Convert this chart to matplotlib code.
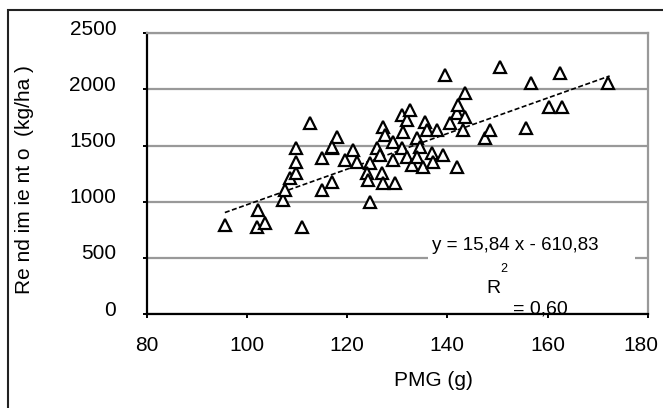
import numpy as np
import matplotlib
matplotlib.use("Agg")
import matplotlib.pyplot as plt
import matplotlib.transforms as mtransforms
from matplotlib.patches import Rectangle

plt.rcParams["font.family"] = ["Liberation Sans", "DejaVu Sans"]

# PMG (g) vs rendimiento (kg/ha)
pmg = [95.6, 102.0, 102.3, 103.6, 107.3, 107.6, 108.6, 109.9, 109.9, 109.9,
       110.9, 112.6, 114.9, 114.9, 116.9, 116.9, 117.9, 117.0, 119.6, 121.2,
       121.9, 124.6, 123.9, 124.2, 124.6, 125.9, 126.6, 126.9, 127.2, 127.2,
       127.6, 129.2, 129.2, 129.6, 130.9, 130.9, 131.2, 131.9, 131.9, 132.6,
       132.9, 133.9, 134.6, 134.0, 135.2, 135.5, 135.9, 136.9, 137.2, 137.9,
       139.2, 139.5, 140.5, 141.9, 141.9, 142.2, 143.5, 143.5, 143.2, 147.5,
       148.5, 150.5, 155.8, 156.8, 160.2, 162.5, 162.8, 172.1]
rend = [792, 777, 926, 807, 1015, 1104, 1208, 1253, 1356, 1475,
        777, 1698, 1386, 1104, 1475, 1178, 1579, 1490, 1371, 1460,
        1356, 1342, 1253, 1193, 1000, 1475, 1416, 1253, 1164, 1668,
        1594, 1534, 1371, 1164, 1772, 1475, 1623, 1727, 1401, 1816,
        1327, 1565, 1490, 1400, 1312, 1712, 1639, 1431, 1356, 1639,
        1416, 2128, 1698, 1312, 1787, 1861, 1965, 1757, 1639, 1565,
        1639, 2202, 1653, 2054, 1846, 2143, 1846, 2054]

slope, intercept = 15.84, -610.83
x_ticks = [80, 100, 120, 140, 160, 180]
y_ticks = [0, 500, 1000, 1500, 2000, 2500]

fig = plt.figure(figsize=(6.63, 4.08), dpi=100)
ax = fig.add_axes([146.7 / 663, 94 / 408, 501 / 663, 280.7 / 408])

ax.set_xlim(80, 180)
ax.set_ylim(0, 2500)
ax.set_xticks(x_ticks)
ax.set_yticks(y_ticks)
ax.set_axisbelow(True)
ax.yaxis.grid(True, color="#999999", lw=1.6, zorder=0.5)

for s in ["top", "right"]:
    ax.spines[s].set_color("#999999")
    ax.spines[s].set_linewidth(1.6)
for s in ["left", "bottom"]:
    ax.spines[s].set_color("black")
    ax.spines[s].set_linewidth(1.6)

ax.tick_params(axis="x", direction="out", length=3, width=1.4, pad=12.5, labelsize=15)
ax.tick_params(axis="y", direction="out", length=3, width=1.4, pad=19, labelsize=15)

shift = mtransforms.ScaledTranslation(0, 6 / 100, fig.dpi_scale_trans)
for lab in ax.get_yticklabels():
    lab.set_transform(lab.get_transform() + shift)
# last x label is pulled in so it stays inside the picture
last = ax.get_xticklabels()[-1]
last.set_transform(last.get_transform()
                   + mtransforms.ScaledTranslation(-7 / 100, 0, fig.dpi_scale_trans))

# white box behind the equation text
ax.add_patch(Rectangle((136.1, 20), 41.4, 680, facecolor="white", edgecolor="none", zorder=1))

ax.plot(pmg, rend, linestyle="none", marker="^", markersize=9,
        markerfacecolor="white", markeredgecolor="black", markeredgewidth=1.6, zorder=3)

xs = np.array([min(pmg), 172.4])
ax.plot(xs, slope * xs + intercept, color="black", lw=1.2,
        linestyle=(0, (3, 1.5)), zorder=2.8)

ax.text(153.5, 607, "y = 15,84 x - 610,83", ha="center", va="center", fontsize=13.5, zorder=4)
ax.text(151.3, 398, "2", ha="center", va="center", fontsize=9, zorder=4)
ax.text(149.2, 228, "R", ha="center", va="center", fontsize=14, zorder=4)
ax.text(158.5, 42, "= 0,60", ha="center", va="center", fontsize=14, zorder=4)

fig.text(25 / 663, 0.559, "Re nd im ie nt o  (kg/ha )", rotation=90,
         ha="center", va="center", fontsize=15)
fig.text(433 / 663, 28 / 408, "PMG (g)", ha="center", va="center", fontsize=15)

fig.patches.append(Rectangle((7.5 / 663, -0.1), 1.0, 398 / 408 + 0.1,
                             transform=fig.transFigure, fill=False,
                             edgecolor="#222222", lw=1.5))

fig.savefig("out.png", dpi=100)
